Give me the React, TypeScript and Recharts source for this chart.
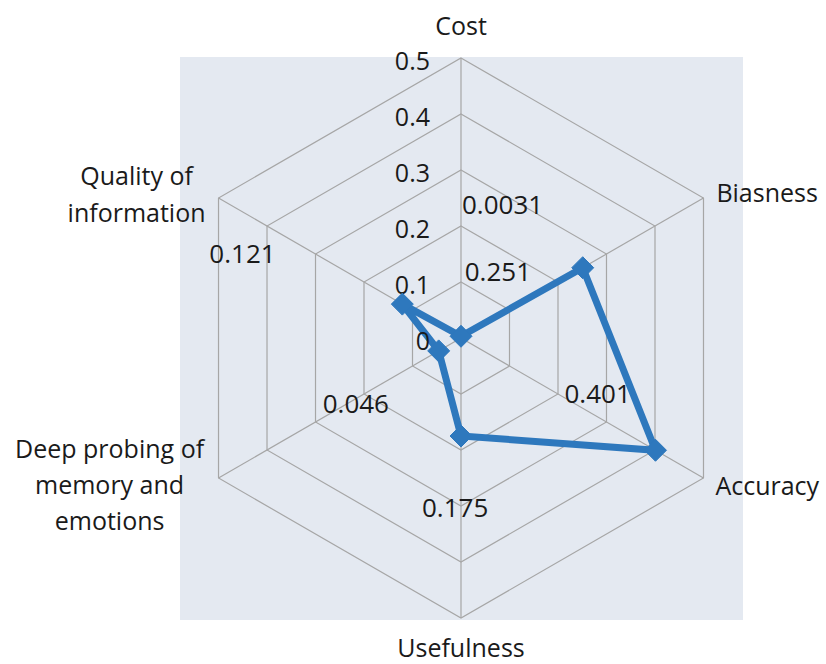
import React from 'react';
import { RadarChart, Radar, PolarGrid, PolarAngleAxis, PolarRadiusAxis } from 'recharts';

const categories = [
  'Cost',
  'Biasness',
  'Accuracy',
  'Usefulness',
  'Deep probing of memory and emotions',
  'Quality of information',
];
const scores = [0.0031, 0.251, 0.401, 0.175, 0.046, 0.121];
const radiusTicks = [0, 0.1, 0.2, 0.3, 0.4, 0.5];

// how each category name is broken into lines
const categoryLines = [
  ['Cost'],
  ['Biasness'],
  ['Accuracy'],
  ['Usefulness'],
  ['Deep probing of', 'memory and', 'emotions'],
  ['Quality of', 'information'],
];

const data = categories.map((name, i) => ({ name, score: scores[i] }));

const FONT = '"Open Sans", sans-serif';
const BLUE = '#2e78bd';

// label placement relative to the tick anchor point
const tickPlace = [
  { dx: 0, dy: -25, anchor: 'middle', gap: 36 },
  { dx: 6, dy: -2, anchor: 'start', gap: 36 },
  { dx: 5, dy: 3, anchor: 'start', gap: 36 },
  { dx: 0, dy: 21, anchor: 'middle', gap: 36 },
  { dx: -102, dy: -34, anchor: 'middle', gap: 36 },
  { dx: -75, dy: -19, anchor: 'middle', gap: 37 },
];

// data label placement relative to each marker (Excel left them scattered)
const labelPlace = [
  { dx: 1, dy: -132 },
  { dx: -118, dy: 3 },
  { dx: -91, dy: -57 },
  { dx: -39, dy: 71 },
  { dx: -116, dy: 52 },
  { dx: -193, dy: -51 },
];

const AngleTick = (props: any) => {
  const { x, y, index } = props;
  const p = tickPlace[index];
  return (
    <text
      x={x + p.dx}
      y={y + p.dy}
      textAnchor={p.anchor}
      dominantBaseline="central"
      fontFamily={FONT}
      fontSize={25}
      fill="#1a1a1a"
    >
      {categoryLines[index].map((line, k) => (
        <tspan key={k} x={x + p.dx} y={y + p.dy + k * p.gap}>
          {line}
        </tspan>
      ))}
    </text>
  );
};

const RadiusTick = (props: any) => {
  const { x, y, payload } = props;
  return (
    <text
      x={x - 31}
      y={y + 2}
      textAnchor="end"
      dominantBaseline="central"
      fontFamily={FONT}
      fontSize={25}
      fill="#1a1a1a"
    >
      {String(payload.value)}
    </text>
  );
};

const DiamondDot = (props: any) => {
  const { cx, cy, index } = props;
  const s = 11;
  const p = labelPlace[index];
  return (
    <g key={`dot-${index}`}>
      <polygon
        points={`${cx},${cy - s} ${cx + s},${cy} ${cx},${cy + s} ${cx - s},${cy}`}
        fill={BLUE}
        stroke={BLUE}
        strokeWidth={1}
      />
      <text
        x={cx + p.dx}
        y={cy + p.dy}
        textAnchor="start"
        dominantBaseline="central"
        fontFamily={FONT}
        fontSize={26}
        fill="#1a1a1a"
      >
        {String(scores[index])}
      </text>
    </g>
  );
};

export default function App() {
  return (
    <div style={{ position: 'fixed', left: 0, top: 0, width: 826, height: 664, background: '#fff' }}>
      <div
        style={{
          position: 'absolute',
          left: 180,
          top: 57,
          width: 563,
          height: 563,
          background: '#e4e9f1',
        }}
      />
      <div style={{ position: 'absolute', left: 0, top: 0 }}>
        <RadarChart
          width={826}
          height={664}
          data={data}
          cx={461}
          cy={338}
          innerRadius={0}
          outerRadius={280}
          margin={{ top: 0, right: 0, bottom: 0, left: 0 }}
        >
          <PolarGrid gridType="polygon" stroke="#a6a6a6" strokeWidth={1.2} />
          <PolarAngleAxis dataKey="name" type="category" tick={<AngleTick />} tickLine={false} axisLine={false} />
          <PolarRadiusAxis
            type="number"
            angle={90}
            domain={[0, 0.5]}
            allowDecimals
            allowDataOverflow
            ticks={radiusTicks}
            tickCount={6}
            tick={<RadiusTick />}
            axisLine={false}
            tickLine={false}
          />
          <Radar
            dataKey="score"
            stroke={BLUE}
            strokeWidth={7}
            strokeLinejoin="miter"
            fill="none"
            fillOpacity={0}
            dot={(p: any) => <DiamondDot {...p} />}
            isAnimationActive={false}
          />
        </RadarChart>
      </div>
    </div>
  );
}
